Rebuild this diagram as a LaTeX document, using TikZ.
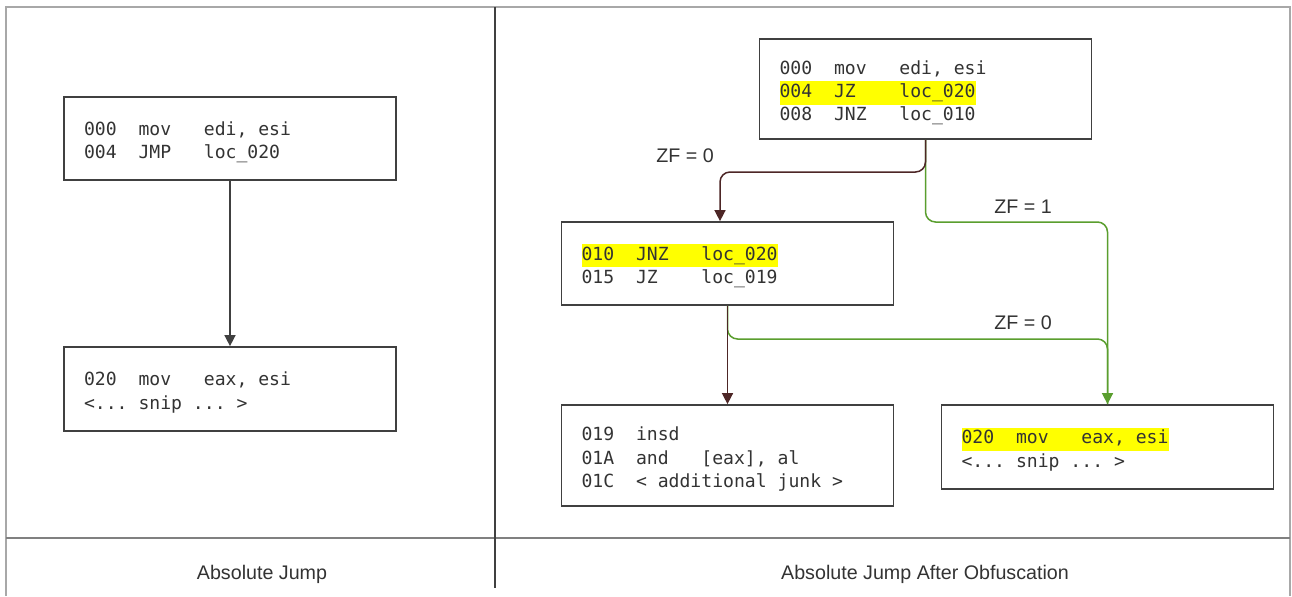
\documentclass[tikz,border=0pt]{standalone}
\usepackage{fontspec}
\setmainfont{Liberation Sans}
\newfontfamily\codefont{DejaVu Sans Mono}
\usetikzlibrary{arrows.meta}
\definecolor{txt}{HTML}{333333}
\definecolor{hly}{HTML}{FFFF00}
\definecolor{brn}{HTML}{4D2626}
\definecolor{grn}{HTML}{5A9E2E}
\definecolor{boxc}{HTML}{404040}
\definecolor{framec}{HTML}{A8A8A8}
\definecolor{divc}{HTML}{808080}
\newcommand{\sk}[1]{\hspace*{#1\fontcharwd\font`0}}
\newcommand{\hlx}[1]{{\setlength{\fboxsep}{0pt}\colorbox{hly}{\strut #1}}}
\newcommand{\cl}[1]{\strut #1}
\newcommand{\fl}{\rule{0pt}{13.8pt}}
\tikzset{
  cbox/.style={draw=boxc, line width=1pt, fill=white, text=txt,
    text width=5.84cm, inner xsep=0.4cm, inner ysep=0pt, align=left,
    font=\codefont\fontsize{10.3pt}{13.3pt}\selectfont},
  conn/.style={line width=0.85pt, rounded corners=0.2cm},
  tip/.style={-{Triangle[length=0.22cm,width=0.22cm]}},
  lbl/.style={text=txt, font=\fontsize{11.2pt}{13pt}\selectfont, inner sep=0pt},
}
\begin{document}
\begin{tikzpicture}[x=0.02cm,y=-0.02cm]
\useasboundingbox (0,0) rectangle (1292,596);
\fill[white] (0,0) rectangle (1292,596);
% frame
\draw[framec, line width=1.2pt] (6,596) -- (6,7) -- (1290,7) -- (1290,596);
\draw[divc, line width=1.2pt] (6,538) -- (1290,538);
\draw[boxc, line width=0.9pt] (495,7) -- (495,588);
% left panel
\node[cbox, minimum height=1.66cm] (A) at (230,138.5) {\fl\cl{000\sk2mov\sk3edi,\sk1esi}\\\cl{004\sk2JMP\sk3loc\_020}};
\node[cbox, minimum height=1.68cm] (B) at (230,389) {\fl\cl{020\sk2mov\sk3eax,\sk1esi}\\\cl{<...\sk1snip\sk1...\sk1>}};
\draw[conn, boxc, tip] (A.south) -- (B.north);
% right panel
\node[cbox, minimum height=2.0cm] (C) at (925.5,89) {\fl\cl{000\sk2mov\sk3edi,\sk1esi}\\\hlx{004\sk2JZ\sk4loc\_020}\\\cl{008\sk2JNZ\sk3loc\_010}};
\node[cbox, minimum height=1.66cm] (D) at (727.5,263.5) {\fl\hlx{010\sk2JNZ\sk3loc\_020}\\\cl{015\sk2JZ\sk4loc\_019}};
\node[cbox, minimum height=2.02cm] (E) at (727.5,455.5) {\fl\cl{019\sk2insd}\\\cl{01A\sk2and\sk3[eax],\sk1al}\\\cl{01C\sk2<\sk1additional\sk1junk\sk1>}};
\node[cbox, minimum height=1.68cm] (F) at (1107.5,447) {\fl\hlx{020\sk2mov\sk3eax,\sk1esi}\\\cl{<...\sk1snip\sk1...\sk1>}};
\coordinate (b1) at (720,172);
\coordinate (g1) at (1107.5,222);
\coordinate (g2) at (1107.5,339);
\draw[conn, grn] (D.south) |- (g2) -- (g2 |- F.north);
\draw[conn, grn, tip] (C.south) |- (g1) -- (g1 |- F.north);
\draw[conn, brn, tip] (C.south) |- (b1) -- (b1 |- D.north);
\draw[conn, brn, tip] (D.south) -- (E.north);
\node[lbl] (z1) at (685,156) {ZF = 0};
\node[lbl] (z2) at (1023,207) {ZF = 1};
\node[lbl] (z3) at (1023,323) {ZF = 0};
% captions
\node[lbl] (cap1) at (262,574) {Absolute Jump};
\node[lbl] (cap2) at (925,574) {Absolute Jump After Obfuscation};
\end{tikzpicture}
\end{document}
